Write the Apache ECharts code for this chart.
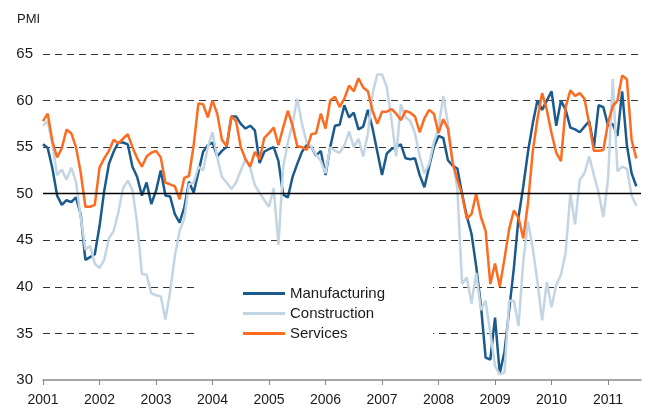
<!DOCTYPE html>
<html>
<head>
<meta charset="utf-8">
<script src="https://cdn.jsdelivr.net/npm/echarts@6/dist/echarts.min.js"></script>
<style>
  html, body { margin: 0; padding: 0; background: #fff; }
  #chart { width: 648px; height: 410px; }
</style>
</head>
<body>
<div id="chart"></div>
<script>
// monthly PMI, Jan 2001 - Jul 2011
const manufacturing = [
  55.3, 54.9, 52.7, 49.8, 48.8, 49.3, 49.1, 49.6, 47.8, 42.9, 43.2, 43.5,
  46.5, 50.3, 53.2, 54.5, 55.5, 55.5, 55.3, 52.9, 51.8, 49.8, 51.2, 48.9,
  50.3, 52.5, 49.8, 49.7, 47.8, 46.9, 48.5, 51.3, 50.1, 52.3, 54.5, 55.2,
  55.5, 54.0, 54.6, 55.0, 58.3, 58.3, 57.5, 57.0, 57.3, 56.8, 53.3, 54.5,
  54.8, 55.0, 53.5, 49.9, 49.6, 51.8, 53.2, 54.5, 55.2, 55.0, 54.1, 54.6,
  52.0, 55.0, 57.3, 57.4, 59.5, 58.2, 58.7, 56.9, 57.2, 59.0, 57.0, 54.5,
  52.0, 54.3, 54.8, 55.0, 55.3, 53.8, 53.7, 53.8, 52.0, 50.7, 52.9, 55.0,
  56.2, 56.0, 53.6, 53.0, 52.7, 50.0, 47.6, 45.7, 42.2, 38.0, 32.4, 32.2,
  36.7, 30.7, 33.0, 37.5, 42.0, 47.5, 50.8, 54.5, 57.5, 60.0, 59.0, 60.0,
  61.0, 57.3, 60.0, 59.0, 57.1, 56.9, 56.6, 57.2, 57.8, 55.0, 59.5, 59.3,
  57.3, 57.5, 56.2, 61.0, 55.2, 52.2, 50.8
];
const construction = [
  57.3, 57.8, 55.3, 52.0, 52.6, 51.5, 52.8, 51.3, 47.5, 44.0, 44.4, 42.5,
  42.0, 42.9, 45.2, 46.0, 48.0, 50.6, 51.4, 50.4, 46.8, 41.4, 41.3, 39.3,
  39.1, 39.0, 36.5, 39.5, 43.3, 46.0, 47.3, 51.0, 51.2, 52.9, 52.5, 55.0,
  56.6, 53.9, 51.8, 51.2, 50.5, 51.2, 52.5, 53.7, 52.8, 50.9, 50.1, 49.3,
  48.6, 50.6, 44.5, 52.8, 55.5, 57.5, 60.2, 57.5, 55.5, 55.0, 54.2, 53.5,
  52.2, 55.0, 54.6, 54.4, 55.2, 56.7, 55.0, 55.9, 54.0, 56.5, 60.8, 62.8,
  62.8, 61.5, 58.0, 54.0, 59.6, 58.2, 57.8, 56.5, 54.0, 52.2, 53.2, 55.5,
  57.0, 60.5, 57.5, 53.5, 50.5, 40.3, 41.0, 38.2, 41.5, 37.5, 38.5, 35.0,
  31.5, 30.6, 30.8, 38.5, 38.5, 35.8, 42.8, 47.0, 44.2, 40.5, 36.4, 40.5,
  37.8, 40.2, 41.3, 43.7, 50.0, 46.7, 51.5, 52.2, 54.0, 52.0, 50.1, 47.5,
  51.5, 62.3, 52.4, 52.9, 52.7, 49.8, 48.7
];
const services = [
  57.8, 58.6, 55.6, 53.9, 54.9, 56.9, 56.5, 55.0, 52.3, 48.6, 48.6, 48.8,
  52.8, 53.8, 54.6, 55.8, 55.4, 55.9, 56.4, 55.0, 53.8, 52.9, 54.0, 54.4,
  54.6, 53.9, 51.2, 51.0, 50.8, 49.4, 51.7, 51.9, 55.2, 59.7, 59.6, 58.2,
  60.0, 58.6, 55.8, 55.1, 58.3, 57.8, 55.0, 53.7, 52.9, 54.5, 53.7, 56.0,
  56.5, 57.1, 55.2, 57.1, 58.9, 57.3, 55.1, 55.0, 54.7, 56.4, 56.5, 58.6,
  57.0, 60.0, 60.4, 59.3, 60.2, 61.6, 61.0, 62.4, 61.4, 61.0, 58.9, 57.5,
  58.8, 58.8, 59.1, 58.6, 57.9, 58.9, 58.7, 58.3, 56.6, 58.1, 59.0, 58.6,
  56.5, 58.0, 57.0, 53.3, 51.5, 49.9, 47.3, 47.8, 50.0, 47.5, 46.0, 40.3,
  42.5, 40.0, 43.0, 46.2, 48.2, 47.4, 45.2, 49.0, 54.5, 58.0, 60.8, 59.0,
  56.5, 54.4, 53.5, 59.3, 61.1, 60.5, 60.8, 60.2, 57.5, 54.6, 54.6, 54.7,
  57.6, 59.4, 60.0, 62.7, 62.3, 55.8, 53.8
];
const years = [2001, 2002, 2003, 2004, 2005, 2006, 2007, 2008, 2009, 2010, 2011];

// month categories, axis runs to Aug 2011
const months = [];
years.forEach(function (y) {
  for (let m = 1; m <= 12; m++) {
    if (y === 2011 && m > 8) break;
    months.push(y + '-' + (m < 10 ? '0' + m : m));
  }
});

const font = 'Liberation Sans, Arial, sans-serif';
const isJan = function (idx) { return idx % 12 === 0; };

const chart = echarts.init(document.getElementById('chart'));
chart.setOption({
  animation: false,
  textStyle: { fontFamily: font },
  grid: { left: 43, right: 7, top: 54, bottom: 30 },
  xAxis: {
    type: 'category',
    data: months,
    boundaryGap: false,
    axisLine: { lineStyle: { color: '#888', width: 1.5 } },
    axisTick: { interval: isJan, length: 5, lineStyle: { color: '#888' } },
    axisLabel: {
      interval: isJan, margin: 13, fontSize: 14, color: '#1a1a1a', fontFamily: font,
      formatter: function (v) { return v.slice(0, 4); }
    },
    splitLine: { show: false }
  },
  yAxis: {
    type: 'value',
    min: 30, max: 65, interval: 5,
    axisLine: { show: false },
    axisTick: { show: false },
    axisLabel: { fontSize: 15, color: '#1a1a1a', margin: 10, fontFamily: font },
    splitLine: { showMinLine: false, lineStyle: { color: '#333', type: [7, 5], width: 1 } }
  },
  legend: {
    data: ['Manufacturing', 'Construction', 'Services'],
    orient: 'vertical',
    left: 238, top: 281,
    icon: 'rect',
    itemWidth: 42, itemHeight: 3, itemGap: 5,
    textStyle: { fontSize: 15, color: '#1a1a1a', fontFamily: font }
  },
  graphic: [
    { type: 'text', left: 17, top: 13, style: { text: 'PMI', fontSize: 13, fill: '#1a1a1a', fontFamily: font } },
    // gap in the lower gridlines behind the legend
    { type: 'rect', z: 1, shape: { x: 199, y: 272, width: 234, height: 72 }, style: { fill: '#fff' } }
  ],
  series: [
    {
      name: 'Manufacturing', type: 'line', data: manufacturing, symbol: 'none',
      lineStyle: { width: 2.5, color: '#1b5a8c' }, itemStyle: { color: '#1b5a8c' },
      markLine: {
        silent: true, symbol: ['none', 'none'], label: { show: false },
        lineStyle: { color: '#000', type: 'solid', width: 1.3 },
        data: [{ yAxis: 50 }]
      }
    },
    {
      name: 'Construction', type: 'line', data: construction, symbol: 'none',
      lineStyle: { width: 2.5, color: '#c3d5e3' }, itemStyle: { color: '#c3d5e3' }
    },
    {
      name: 'Services', type: 'line', data: services, symbol: 'none',
      lineStyle: { width: 2.5, color: '#fd6b21' }, itemStyle: { color: '#fd6b21' }
    }
  ]
});
</script>
</body>
</html>
